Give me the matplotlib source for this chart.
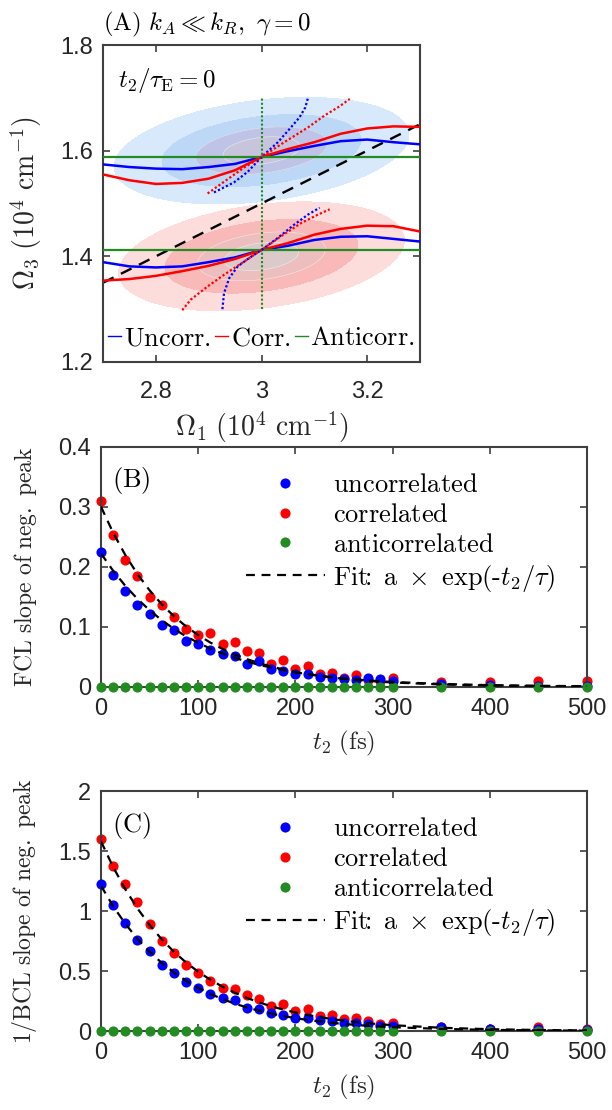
import numpy as np
import matplotlib.pyplot as plt

plt.rcParams['mathtext.fontset'] = 'cm'
plt.rcParams['font.family'] = ['Liberation Sans', 'DejaVu Sans']
plt.rcParams['axes.unicode_minus'] = False

BLUE = '#0000ff'
RED = '#ff0000'
GREEN = '#228b22'
AXC = '#404040'
TXC = '#262626'

# ---- panel A data ----
om1 = [2.70, 2.75, 2.80, 2.85, 2.90, 2.95, 3.00, 3.05, 3.10, 3.15, 3.20, 3.25, 3.30]
up_unc = [1.574, 1.569, 1.566, 1.565, 1.569, 1.575, 1.588, 1.599, 1.609, 1.618, 1.621, 1.616, 1.612]
up_cor = [1.555, 1.544, 1.537, 1.539, 1.547, 1.563, 1.588, 1.603, 1.616, 1.632, 1.642, 1.646, 1.645]
lo_unc = [1.389, 1.381, 1.379, 1.381, 1.389, 1.398, 1.412, 1.420, 1.431, 1.437, 1.438, 1.433, 1.428]
lo_cor = [1.354, 1.357, 1.363, 1.372, 1.382, 1.395, 1.412, 1.425, 1.441, 1.452, 1.458, 1.457, 1.447]

ub_dot_x = [2.910, 2.948, 2.974, 3.000, 3.031, 3.053, 3.072, 3.083, 3.088]
ub_dot_y = [1.521, 1.540, 1.560, 1.588, 1.616, 1.641, 1.663, 1.682, 1.700]
ur_dot_x = [2.898, 2.936, 2.967, 3.000, 3.043, 3.088, 3.120, 3.148, 3.167]
ur_dot_y = [1.519, 1.546, 1.568, 1.588, 1.616, 1.644, 1.667, 1.684, 1.698]
lb_dot_x = [2.926, 2.929, 2.939, 2.955, 2.977, 3.000, 3.031, 3.062, 3.088, 3.110]
lb_dot_y = [1.300, 1.330, 1.359, 1.381, 1.397, 1.412, 1.435, 1.460, 1.479, 1.492]
lr_dot_x = [2.850, 2.866, 2.898, 2.929, 2.967, 3.000, 3.037, 3.075, 3.107, 3.129]
lr_dot_y = [1.298, 1.318, 1.343, 1.365, 1.390, 1.412, 1.438, 1.463, 1.479, 1.489]

anti_levels = [1.588, 1.412]
anti_v_x = [3.0, 3.0]
anti_v_y = [1.300, 1.702]
diag_x = [2.7, 3.3]
diag_y = [1.35, 1.65]

# peak shapes (center x, center y, sx, sy, rho)
peak_up = (3.0, 1.600, 0.130, 0.047, 0.3)
peak_lo = (3.0, 1.400, 0.126, 0.048, 0.3)
levels = [0.1, 0.35, 0.63, 0.855, 1.1]
blue_fill = ['#d9e9fc', '#bdd8f6', '#bfc4e7', '#c7c5dc']
red_fill = ['#fddcdc', '#f9b9b9', '#edbebe', '#dccaca']

# ---- panels B, C data ----
t2 = [0, 12.5, 25, 37.5, 50, 62.5, 75, 87.5, 100, 112.5, 125, 137.5, 150, 162.5,
      175, 187.5, 200, 212.5, 225, 237.5, 250, 262.5, 275, 287.5, 300, 350, 400, 450, 500]

fcl_unc = [0.224, 0.186, 0.160, 0.137, 0.122, 0.103, 0.094, 0.077, 0.072, 0.061, 0.055,
           0.051, 0.038, 0.043, 0.029, 0.026, 0.021, 0.021, 0.017, 0.015, 0.013, 0.012,
           0.015, 0.013, 0.009, 0.004, 0.003, 0.002, 0.002]
fcl_cor = [0.310, 0.253, 0.212, 0.185, 0.150, 0.136, 0.116, 0.096, 0.086, 0.090, 0.071,
           0.074, 0.059, 0.057, 0.038, 0.045, 0.030, 0.034, 0.022, 0.023, 0.015, 0.019,
           0.011, 0.009, 0.015, 0.008, 0.008, 0.009, 0.009]
fcl_anti = [0.0] * 29
fcl_fit = {'unc': (0.222, 90.0), 'cor': (0.300, 80.0)}

bcl_unc = [1.229, 1.050, 0.898, 0.755, 0.665, 0.552, 0.482, 0.409, 0.360, 0.308, 0.272,
           0.260, 0.191, 0.183, 0.147, 0.131, 0.106, 0.106, 0.089, 0.083, 0.069, 0.064,
           0.056, 0.045, 0.040, 0.036, 0.020, 0.020, 0.010]
bcl_cor = [1.602, 1.373, 1.224, 1.077, 0.892, 0.748, 0.654, 0.550, 0.485, 0.416, 0.355,
           0.352, 0.298, 0.263, 0.208, 0.222, 0.167, 0.181, 0.125, 0.131, 0.103, 0.106,
           0.083, 0.056, 0.069, 0.036, 0.019, 0.036, 0.019]
bcl_anti = [0.0] * 29
bcl_fit = {'unc': (1.21, 82.5), 'cor': (1.58, 86.0)}


def peak(X, Y, x0, y0, sx, sy, rho):
    dx = (X - x0) / sx
    dy = (Y - y0) / sy
    return np.exp(-(dx**2 - 2*rho*dx*dy + dy**2) / (2*(1 - rho**2)))


def style(ax, xt, xl, yt, yl, xpad=8):
    ax.set_xticks(xt)
    ax.set_xticklabels(xl)
    ax.set_yticks(yt)
    ax.set_yticklabels(yl)
    ax.tick_params(direction='in', top=True, right=True, length=5, width=1.2,
                   color=AXC, labelcolor=TXC, labelsize=17, pad=7)
    ax.tick_params(axis='x', pad=xpad)
    for s in ax.spines.values():
        s.set_color(AXC)
        s.set_linewidth(1.5)


fig = plt.figure(figsize=(6.12, 11.10), dpi=100)

# ---------------- panel A ----------------
axa = fig.add_axes([103/612, 1 - 362/1110, 317/612, 317/1110])
gx = np.linspace(2.7, 3.3, 400)
gy = np.linspace(1.2, 1.8, 400)
X, Y = np.meshgrid(gx, gy)
for pk, cols in ((peak_up, blue_fill), (peak_lo, red_fill)):
    Z = peak(X, Y, *pk)
    axa.contourf(X, Y, Z, levels=levels, colors=cols, zorder=1)
    axa.contour(X, Y, Z, levels=levels[2:4], colors='white',
                linewidths=0.5, alpha=0.5, zorder=1)

axa.plot(diag_x, diag_y, color='black', lw=1.7, dashes=(5, 3.5), zorder=2)
axa.plot(om1, up_unc, color=BLUE, lw=1.8, zorder=3, label=r'$\mathrm{Uncorr.}$')
axa.plot(om1, lo_unc, color=BLUE, lw=1.8, zorder=3)
axa.plot(om1, up_cor, color=RED, lw=1.8, zorder=3, label=r'$\mathrm{Corr.}$')
axa.plot(om1, lo_cor, color=RED, lw=1.8, zorder=3)
for lev in anti_levels:
    axa.axhline(lev, color=GREEN, lw=1.6, zorder=4)
axa.plot([], [], color=GREEN, lw=1.6, label=r'$\mathrm{Anticorr.}$')
axa.plot(anti_v_x, anti_v_y, color=GREEN, lw=1.5, dashes=(1, 1), zorder=4)
axa.plot(ub_dot_x, ub_dot_y, color=BLUE, lw=1.6, dashes=(1, 1), zorder=5)
axa.plot(lb_dot_x, lb_dot_y, color=BLUE, lw=1.6, dashes=(1, 1), zorder=5)
axa.plot(ur_dot_x, ur_dot_y, color=RED, lw=1.6, dashes=(1, 1), zorder=5)
axa.plot(lr_dot_x, lr_dot_y, color=RED, lw=1.6, dashes=(1, 1), zorder=5)

axa.set_xlim(2.7, 3.3)
axa.set_ylim(1.2, 1.8)
style(axa, [2.8, 3.0, 3.2], ['2.8', '3', '3.2'],
      [1.2, 1.4, 1.6, 1.8], ['1.2', '1.4', '1.6', '1.8'], xpad=14)
axa.set_xlabel(r'$\Omega_1\ (10^4\ \mathrm{cm}^{-1})$', fontsize=20, color=TXC)
axa.set_ylabel(r'$\Omega_3\ (10^4\ \mathrm{cm}^{-1})$', fontsize=20, color=TXC)
axa.xaxis.set_label_coords(0.5, -0.148)
axa.yaxis.set_label_coords(-0.186, 0.5)
axa.text(0.0, 1.045, r'$\mathrm{(A)}\ k_A \ll k_R,\ \gamma = 0$', transform=axa.transAxes,
         fontsize=18, ha='left', va='baseline')
axa.text(0.047, 0.867, r'$t_2/\tau_{\mathrm{E}} = 0$', transform=axa.transAxes,
         fontsize=18, ha='left', va='baseline')
leg = axa.legend(loc='lower center', bbox_to_anchor=(0.5, 0.02), ncol=3, frameon=False,
                 fontsize=19, handlelength=0.5, handletextpad=0.1, columnspacing=0.15,
                 borderaxespad=0.1, borderpad=0.1)
for h in leg.get_lines():
    h.set_linewidth(1.0)

FIT_LABEL = r'$\mathrm{Fit}\!\!:\;\mathrm{a}\ \times\ \mathrm{exp(\text{-}}t_2/\tau)$'


# ---------------- panels B and C ----------------
def decay_panel(ax, unc, cor, anti, fit, letter, ylab, ymax, yt, yl):
    ax.plot(t2, unc, 'o', color=BLUE, ms=7.3, mec='none', zorder=3, clip_on=False,
            label=r'$\mathrm{uncorrelated}$')
    ax.plot(t2, cor, 'o', color=RED, ms=7.3, mec='none', zorder=2, clip_on=False,
            label=r'$\mathrm{correlated}$')
    ax.plot(t2, anti, 'o', color=GREEN, ms=7.3, mec='none', zorder=4, clip_on=False,
            label=r'$\mathrm{anticorrelated}$')
    tt = np.array(t2)
    for i, key in enumerate(['unc', 'cor']):
        a, tau = fit[key]
        ax.plot(tt, a*np.exp(-tt/tau), color='black', lw=1.6, dashes=(4, 3),
                zorder=5, label=FIT_LABEL if i == 0 else None)
    ax.set_xlim(0, 500)
    ax.set_ylim(0, ymax)
    style(ax, [0, 100, 200, 300, 400, 500], ['0', '100', '200', '300', '400', '500'],
          yt, yl)
    ax.set_xlabel(r'$t_2\ \mathrm{(fs)}$', fontsize=18, color=TXC)
    ax.set_ylabel(ylab, fontsize=17, color=TXC)
    ax.xaxis.set_label_coords(0.5, -0.175)
    ax.yaxis.set_label_coords(-0.128, 0.5)
    ax.text(0.022, 0.83, letter, transform=ax.transAxes, fontsize=19,
            ha='left', va='baseline')
    ax.legend(loc='upper left', bbox_to_anchor=(0.298, 0.89), frameon=False,
              fontsize=19, handlelength=3.0, handletextpad=0.3, labelspacing=0.22,
              borderaxespad=0.0, borderpad=0.0)


axb = fig.add_axes([101/612, 1 - 686.7/1110, 486/612, 240/1110])
decay_panel(axb, fcl_unc, fcl_cor, fcl_anti, fcl_fit, r'$\mathrm{(B)}$',
            r'$\mathrm{FCL\ slope\ of\ neg.\ peak}$', 0.4,
            [0, 0.1, 0.2, 0.3, 0.4], ['0', '0.1', '0.2', '0.3', '0.4'])

axc = fig.add_axes([101/612, 1 - 1031/1110, 486/612, 240/1110])
decay_panel(axc, bcl_unc, bcl_cor, bcl_anti, bcl_fit, r'$\mathrm{(C)}$',
            r'$\mathrm{1/BCL\ slope\ of\ neg.\ peak}$', 2.0,
            [0, 0.5, 1.0, 1.5, 2.0], ['0', '0.5', '1', '1.5', '2'])

fig.savefig('out.png', dpi=100)
